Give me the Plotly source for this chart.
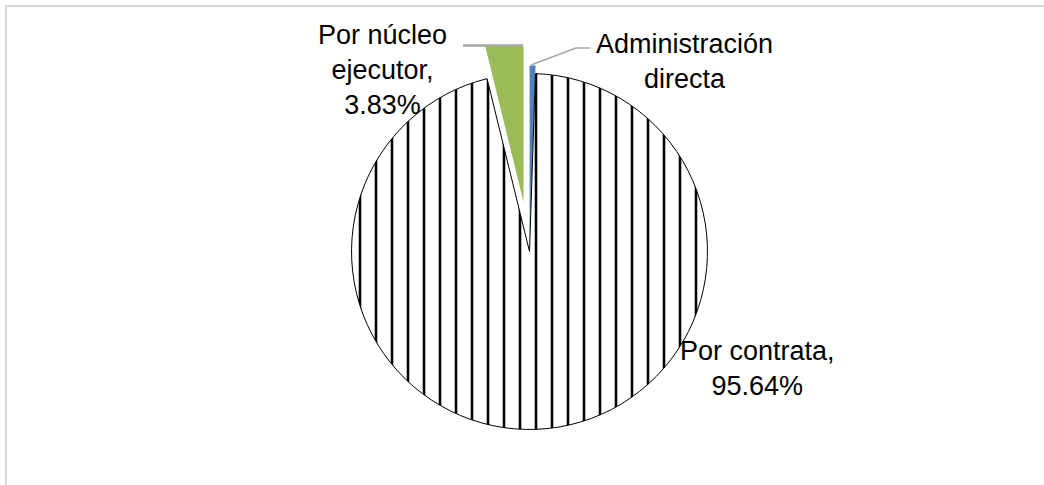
import plotly.graph_objects as go

# ---- data ----
labels = ["Administración directa", "Por contrata", "Por núcleo ejecutor"]
values = [0.53, 95.64, 3.83]
label_texts = ["Administración<br>directa", "Por contrata,<br>95.64%", "Por núcleo<br>ejecutor,<br>3.83%"]
pulls = [0.045, 0.0, 0.28]
colors = ["#4F81BD", "#FFFFFF", "#9BBB59"]

W, H = 1044, 485


def px(x):
    return x / W


def py(y):
    return 1 - y / H


cx, cy = 529.5, 251.5
fig = go.Figure(
    go.Pie(
        labels=labels,
        values=values,
        sort=False,
        direction="clockwise",
        rotation=0,
        pull=pulls,
        textinfo="none",
        hoverinfo="label+percent",
        showlegend=False,
        domain=dict(x=[px(cx) - 0.45, px(cx) + 0.45], y=[py(cy) - 0.4697, py(cy) + 0.4697]),
        marker=dict(
            colors=colors,
            line=dict(color=["rgba(0,0,0,0)", "#000000", "rgba(0,0,0,0)"], width=[0, 1, 0]),
            pattern=dict(
                shape=["", "|", ""],
                fgcolor="#000000",
                bgcolor="#FFFFFF",
                size=16,
                solidity=0.16,
            ),
        ),
    )
)

shapes = [
    # clipping mask of the plot area top (green slice is cut flat)
    dict(type="rect", xref="paper", yref="paper", x0=px(470), x1=px(528), y0=py(46), y1=py(8),
         fillcolor="white", line=dict(width=0), layer="above"),
    # leader lines
    dict(type="line", xref="paper", yref="paper", x0=px(463), x1=px(523), y0=py(45.5), y1=py(45.5),
         line=dict(color="#A6A6A6", width=2.5), layer="above"),
    dict(type="path", xref="paper", yref="paper",
         path=f"M {px(531)},{py(65)} L {px(576)},{py(48)} L {px(590)},{py(48)}",
         line=dict(color="#A6A6A6", width=1.5), layer="above"),
    # chart-area border (top and left)
    dict(type="line", xref="paper", yref="paper", x0=px(5), x1=1, y0=py(6), y1=py(6),
         line=dict(color="#D9D9D9", width=2), layer="above"),
    dict(type="line", xref="paper", yref="paper", x0=px(6), x1=px(6), y0=py(5), y1=0,
         line=dict(color="#D9D9D9", width=2), layer="above"),
]

ann_pos = [(684, 61), (757, 368), (382, 70)]
annotations = []
for txt, (ax, ay) in zip(label_texts, ann_pos):
    annotations.append(dict(
        text=txt, xref="paper", yref="paper", x=px(ax), y=py(ay),
        xanchor="center", yanchor="middle", align="center", showarrow=False,
        font=dict(family="Liberation Sans, Arial, sans-serif", size=27, color="#000000"),
    ))

fig.update_layout(
    width=W, height=H,
    margin=dict(l=0, r=0, t=0, b=0),
    paper_bgcolor="white",
    plot_bgcolor="white",
    shapes=shapes,
    annotations=annotations,
)

fig.write_html(
    "out.html",
    config={"displayModeBar": False},
    post_script="document.body.style.margin='0px';document.body.style.overflow='hidden';",
)
